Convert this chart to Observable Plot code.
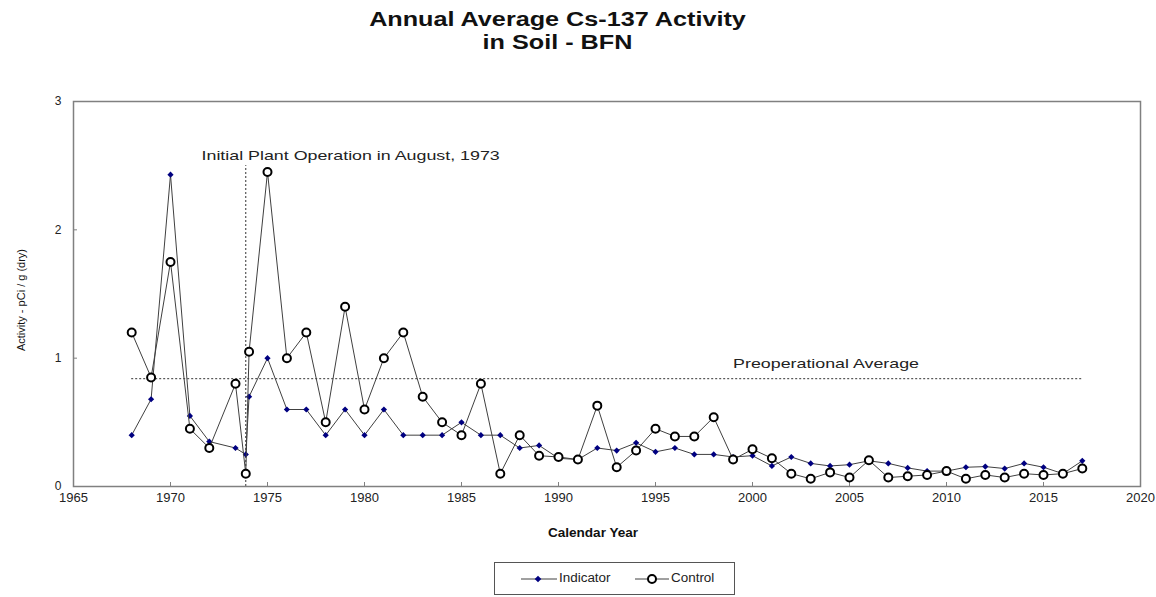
<!DOCTYPE html>
<html>
<head>
<meta charset="utf-8">
<script src="https://cdn.jsdelivr.net/npm/d3@7"></script>
<script src="https://cdn.jsdelivr.net/npm/@observablehq/plot@0.6"></script>
<style>
  html, body { margin: 0; padding: 0; background: #fff; }
  body { font-family: "Liberation Sans", Arial, sans-serif; }
  #wrap { position: relative; width: 1156px; height: 597px; overflow: hidden; }
  #title { position: absolute; left: 0; top: 8px; width: 1114px; text-align: center;
           font-weight: bold; font-size: 20px; line-height: 23px; color: #111; }
  #title span { display: inline-block; transform: scaleX(1.26); transform-origin: center; }
  #chart { position: absolute; left: 0; top: 60px; }
  #ylabel { position: absolute; left: 21px; top: 300px; transform: translate(-50%, -50%) rotate(-90deg);
            white-space: nowrap; font-size: 11px; color: #111; }
  #legend { position: absolute; left: 494px; top: 562px; width: 241px; height: 33px;
            border: 1px solid #555; box-sizing: border-box; font-size: 12px; color: #222; }
  #legend .sw { position: absolute; top: 9px; }
  #legend .lb { position: absolute; top: 8px; transform: scaleX(1.12); transform-origin: left center; white-space: nowrap; }
</style>
</head>
<body>
<div id="wrap">
  <div id="title"></div>
  <div id="chart"></div>
  <div id="ylabel"></div>
  <div id="legend"></div>
</div>
<script>
// ---- data ----
const titleLines = ["Annual Average Cs-137 Activity", "in Soil - BFN"];
const years = [1968, 1969, 1970, 1971, 1972, 1973.35, 1973.88, 1974.05,
  1975, 1976, 1977, 1978, 1979, 1980, 1981, 1982, 1983, 1984, 1985, 1986, 1987, 1988, 1989,
  1990, 1991, 1992, 1993, 1994, 1995, 1996, 1997, 1998, 1999, 2000, 2001, 2002, 2003, 2004,
  2005, 2006, 2007, 2008, 2009, 2010, 2011, 2012, 2013, 2014, 2015, 2016, 2017];
const indicator = [0.40, 0.68, 2.43, 0.55, 0.35, 0.30, 0.25, 0.70,
  1.00, 0.60, 0.60, 0.40, 0.60, 0.40, 0.60, 0.40, 0.40, 0.40, 0.50, 0.40, 0.40, 0.30, 0.32,
  0.22, 0.21, 0.30, 0.28, 0.34, 0.27, 0.30, 0.25, 0.25, 0.23, 0.24, 0.16, 0.23, 0.18, 0.16,
  0.17, 0.20, 0.18, 0.145, 0.12, 0.12, 0.15, 0.155, 0.14, 0.18, 0.15, 0.10, 0.20];
const control = [1.20, 0.85, 1.75, 0.45, 0.30, 0.80, 0.10, 1.05,
  2.45, 1.00, 1.20, 0.50, 1.40, 0.60, 1.00, 1.20, 0.70, 0.50, 0.40, 0.80, 0.10, 0.40, 0.24,
  0.23, 0.21, 0.63, 0.15, 0.28, 0.45, 0.39, 0.39, 0.54, 0.21, 0.29, 0.22, 0.10, 0.06, 0.11,
  0.07, 0.205, 0.07, 0.08, 0.09, 0.12, 0.06, 0.09, 0.07, 0.10, 0.09, 0.10, 0.14];
const preopAverage = 0.84;
const preopSpan = [1968, 2017];
const operationStart = 1973.88;
const operationLineTop = 2.5;
const xTicks = [1965, 1970, 1975, 1980, 1985, 1990, 1995, 2000, 2005, 2010, 2015, 2020];
const yTicks = [0, 1, 2, 3];
const seriesNames = ["Indicator", "Control"];
const xLabel = "Calendar Year";
const yLabel = "Activity - pCi / g (dry)";
const annotations = [
  {x: 1971.6, y: 2.58, text: "Initial Plant Operation in August, 1973"},
  {x: 1999.0, y: 0.96, text: "Preoperational Average"}
];

const indData = years.map((y, i) => ({year: y, value: indicator[i]}));
const ctlData = years.map((y, i) => ({year: y, value: control[i]}));

const W = 1156, H = 490;
const mL = 73, mR = 16, mT = 41, mB = 64;
const plotH = H - mT - mB, plotW = W - mL - mR;

document.getElementById("title").innerHTML = titleLines.map(t => `<div><span>${t}</span></div>`).join("");

const chart = Plot.plot({
  width: W, height: H,
  marginLeft: mL, marginRight: mR, marginTop: mT, marginBottom: mB,
  style: {fontFamily: "Liberation Sans, Arial, sans-serif", color: "#222", background: "#fff"},
  x: {domain: [1965, 2020]},
  y: {domain: [0, 3]},
  marks: [
    Plot.axisX({ticks: xTicks, tickFormat: d => String(d), tickSize: 0, tickPadding: 6, fontSize: 13, label: null}),
    Plot.axisY({ticks: yTicks, tickFormat: d => String(d), tickSize: 0, tickPadding: 12, fontSize: 12, label: null}),
    Plot.tickX(xTicks, {x: d => d, insetTop: plotH - 4, stroke: "#808080"}),
    Plot.tickY(yTicks, {y: d => d, insetRight: plotW - 4, stroke: "#808080"}),
    Plot.ruleY([preopAverage], {x1: preopSpan[0], x2: preopSpan[1], stroke: "#333", strokeWidth: 1, strokeDasharray: "2,2"}),
    Plot.ruleX([operationStart], {y1: 0, y2: operationLineTop, stroke: "#333", strokeWidth: 1, strokeDasharray: "2,2"}),
    Plot.line(indData, {x: "year", y: "value", stroke: "#404040", strokeWidth: 1}),
    Plot.dot(indData, {x: "year", y: "value", symbol: "diamond2", r: 2.8, fill: "#000080", stroke: "none"}),
    Plot.line(ctlData, {x: "year", y: "value", stroke: "#404040", strokeWidth: 1}),
    Plot.dot(ctlData, {x: "year", y: "value", symbol: "circle", r: 4, fill: "#fff", stroke: "#000", strokeWidth: 2}),
    Plot.text(annotations, {x: "x", y: "y", text: "text", textAnchor: "start", fontSize: 13.5, fill: "#222"}),
    Plot.text([xLabel], {frameAnchor: "bottom", dx: -14, dy: 50, fontSize: 12, fontWeight: "bold", fill: "#111"}),
    Plot.frame({stroke: "#808080", strokeWidth: 1.5})
  ]
});
document.getElementById("chart").appendChild(chart);

// stretch the annotation texts horizontally, like the reference
const annTexts = new Set(annotations.map(a => a.text));
d3.select(chart).selectAll("text").each(function () {
  const t = this.textContent;
  let k = 0;
  if (annTexts.has(t)) k = 1.32;
  else if (t === xLabel) k = 1.13;
  if (k) {
    const len = this.getComputedTextLength();
    this.setAttribute("textLength", (len * k).toFixed(1));
    this.setAttribute("lengthAdjust", "spacingAndGlyphs");
  }
});

document.getElementById("ylabel").textContent = yLabel;

// legend
const lg = document.getElementById("legend");
lg.innerHTML = `
  <svg class="sw" style="left:26px" width="36" height="14">
    <line x1="0" y1="7" x2="36" y2="7" stroke="#404040" stroke-width="1"/>
    <path d="M17,3.7 L20.3,7 L17,10.3 L13.7,7 Z" fill="#000080"/>
  </svg>
  <span class="lb" style="left:64px">${seriesNames[0]}</span>
  <svg class="sw" style="left:140px" width="34" height="14">
    <line x1="0" y1="7" x2="34" y2="7" stroke="#404040" stroke-width="1"/>
    <circle cx="17" cy="7" r="4" fill="#fff" stroke="#000" stroke-width="2"/>
  </svg>
  <span class="lb" style="left:176px">${seriesNames[1]}</span>`;
</script>
</body>
</html>
